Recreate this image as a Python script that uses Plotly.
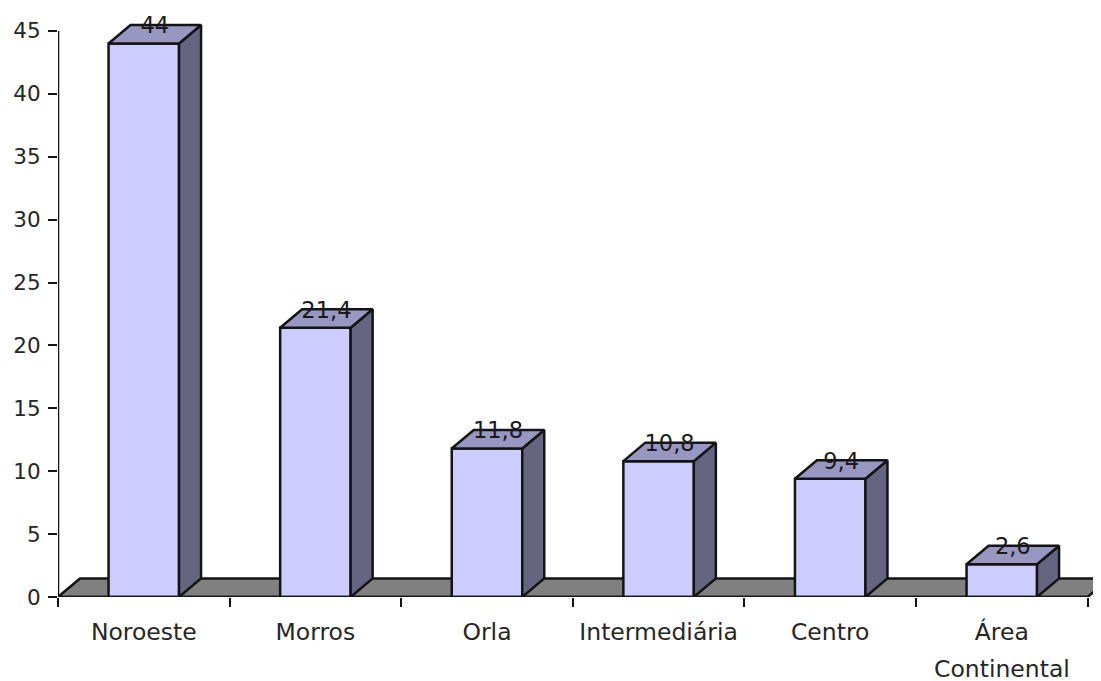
import plotly.graph_objects as go

categories = ["Noroeste", "Morros", "Orla", "Intermediária", "Centro", "Área"]
values = [44, 21.4, 11.8, 10.8, 9.4, 2.6]
value_labels = ["44", "21,4", "11,8", "10,8", "9,4", "2,6"]
y_ticks = [0, 5, 10, 15, 20, 25, 30, 35, 40, 45]

# the page adds an 8 px body margin, so the figure is 8 px smaller on the right/bottom
W, H = 1093, 673
L, R, T, B = 50, 0, 0, 84
PX_CAT = 171.6
PX_UNIT = 12.58
x_max = (W - L - R) / PX_CAT
y_max = (H - T - B) / PX_UNIT
DX = 22 / PX_CAT
DY = 18.5 / PX_UNIT
BAR_W = 70.5 / PX_CAT
OUT = "#141414"
FONT = dict(family="DejaVu Sans", size=21.5, color="#262626")
CAT_FONT = dict(family="DejaVu Sans", size=23.5, color="#262626")
VAL_FONT = dict(family="DejaVu Sans", size=22.5, color="#1a1a1a")

centers = [i + 0.5 for i in range(len(values))]
fig = go.Figure()

fig.add_trace(go.Bar(x=centers, y=values, width=BAR_W,
                     marker=dict(color="#CCCCFF", line=dict(color=OUT, width=2.5)),
                     hoverinfo="skip"))

for c, v in zip(centers, values):
    x0, x1 = c - BAR_W / 2, c + BAR_W / 2
    fig.add_trace(go.Scatter(x=[x1, x1 + DX, x1 + DX, x1, x1], y=[0, DY, v + DY, v, 0],
                             mode="lines", fill="toself", fillcolor="#656582",
                             line=dict(color=OUT, width=2.5), hoverinfo="skip"))
    fig.add_trace(go.Scatter(x=[x0, x1, x1 + DX, x0 + DX, x0], y=[v, v, v + DY, v + DY, v],
                             mode="lines", fill="toself", fillcolor="#9797C2",
                             line=dict(color=OUT, width=2.5), hoverinfo="skip"))

# axis lines
n = len(values)
fig.add_trace(go.Scatter(x=[0, n], y=[0, 0], mode="lines", cliponaxis=False,
                         line=dict(color=OUT, width=2.5), hoverinfo="skip"))
fig.add_trace(go.Scatter(x=[0, 0], y=[0, y_ticks[-1]], mode="lines", cliponaxis=False,
                         line=dict(color=OUT, width=2.5), hoverinfo="skip"))

# value labels
fig.add_trace(go.Scatter(x=[c + DX / 2 for c in centers], y=[v + DY * 0.85 for v in values],
                         mode="text", text=value_labels, textposition="middle center",
                         textfont=VAL_FONT, cliponaxis=False, hoverinfo="skip"))

fig.add_shape(type="path", layer="below", xref="x", yref="y",
              path=f"M 0 0 L {DX} {DY} L {n + DX} {DY} L {n} 0 Z",
              fillcolor="#808080", line=dict(color=OUT, width=2.5))

fig.add_annotation(x=centers[-1], xref="x", y=0, yref="y", yshift=-72,
                   text="Continental", showarrow=False, font=CAT_FONT)

fig.update_layout(
    width=W, height=H, autosize=False,
    margin=dict(l=L, r=R, t=T, b=B),
    paper_bgcolor="white", plot_bgcolor="white",
    showlegend=False, font=FONT,
    xaxis=dict(range=[0, x_max], tickmode="array", tickvals=centers, ticktext=categories,
               ticks="", showgrid=False, zeroline=False, showline=False,
               ticklabelstandoff=18, tickfont=CAT_FONT,
               minor=dict(tickmode="array", tickvals=list(range(n + 1)), ticks="outside",
                          ticklen=9, tickwidth=2, tickcolor=OUT, showgrid=False)),
    yaxis=dict(range=[0, y_max], tickmode="array", tickvals=y_ticks,
               ticks="outside", ticklen=9, tickwidth=2, tickcolor=OUT, ticklabelstandoff=3,
               showgrid=False, zeroline=False, showline=False, tickfont=FONT),
)

fig.write_html("out.html")
